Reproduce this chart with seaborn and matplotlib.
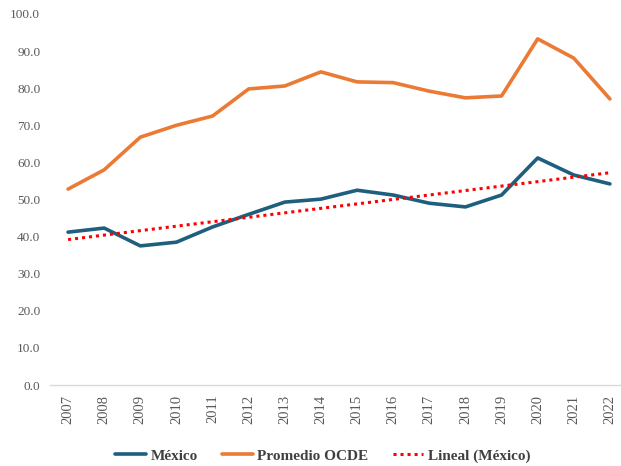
import numpy as np
import pandas as pd
import seaborn as sns
import matplotlib.pyplot as plt

# Values
years = list(range(2007, 2023))
mexico = [41.2, 42.3, 37.5, 38.5, 42.6, 46.0, 49.3, 50.1, 52.5, 51.2, 49.0, 48.0, 51.2, 61.2, 56.6, 54.2]
ocde = [52.8, 58.0, 66.8, 70.0, 72.5, 79.8, 80.6, 84.4, 81.7, 81.5, 79.2, 77.4, 77.9, 93.3, 88.1, 77.1]

sns.set_style("white")
plt.rcParams['font.family'] = ['Liberation Serif', 'DejaVu Serif']

df = pd.DataFrame({'idx': range(len(years)), 'México': mexico, 'Promedio OCDE': ocde})

# linear trend of México
coef = np.polyfit(df['idx'], df['México'], 1)
df['Lineal (México)'] = np.polyval(coef, df['idx'])

fig = plt.figure(figsize=(6.21, 4.66), dpi=100)
ax = fig.add_axes([50 / 621, 1 - 385 / 466, 578 / 621, (385 - 14) / 466])

sns.lineplot(data=df, x='idx', y='México', ax=ax, color='#1F5F7E', linewidth=2.6, label='México')
sns.lineplot(data=df, x='idx', y='Promedio OCDE', ax=ax, color='#EB7A35', linewidth=2.6, label='Promedio OCDE')
sns.lineplot(data=df, x='idx', y='Lineal (México)', ax=ax, color='#FF0000', linewidth=2.2,
             linestyle=(0, (1, 1.3)), label='Lineal (México)')

ax.set_xlim(-0.5, 15.5)
ax.set_ylim(0, 100)
ax.set_yticks(np.arange(0, 101, 10))
ax.set_yticklabels([f'{v:.1f}' for v in np.arange(0, 101, 10)], color='#595959', fontsize=9.5)
ax.set_xticks(range(len(years)))
ax.set_xticklabels([str(y) for y in years], rotation=90, color='#595959', fontsize=10.5)
ax.tick_params(axis='both', length=0, pad=7)
ax.set_xlabel('')
ax.set_ylabel('')
for s in ['top', 'right', 'left']:
    ax.spines[s].set_visible(False)
ax.spines['bottom'].set_color('#D9D9D9')
ax.spines['bottom'].set_linewidth(1)

handles, labels = ax.get_legend_handles_labels()
ax.get_legend().remove()
leg = fig.legend(handles, labels, loc='center', bbox_to_anchor=(0.52, 1 - 456 / 466), ncol=3,
                 frameon=False, fontsize=11, handlelength=2.0, columnspacing=1.6,
                 handletextpad=0.3, borderpad=0)
for t in leg.get_texts():
    t.set_color('#404040')
    t.set_fontweight('bold')

fig.savefig('out.png', dpi=100)
